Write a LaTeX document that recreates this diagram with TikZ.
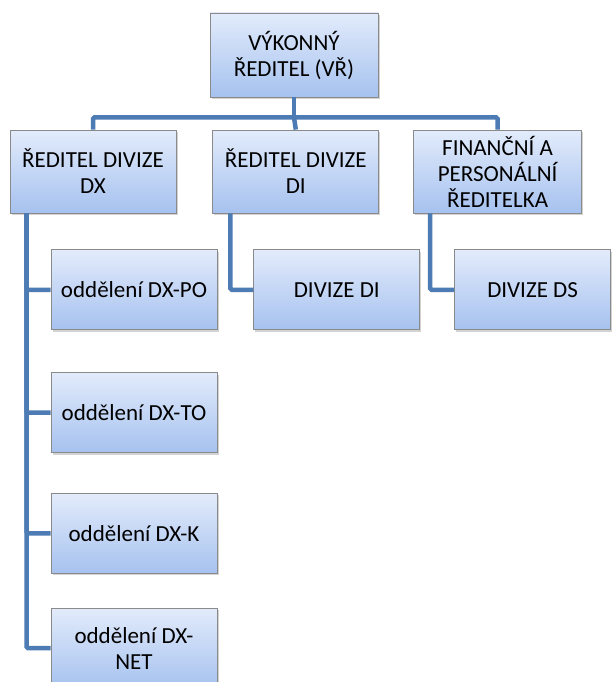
\documentclass[tikz,border=0pt]{standalone}
\usepackage{fontspec}
\setmainfont{Carlito}
\usetikzlibrary{positioning,shadows}
\definecolor{boxtop}{HTML}{E2EBFB}
\definecolor{boxbottom}{HTML}{A6C2EF}
\definecolor{boxborder}{HTML}{8A8A8A}
\definecolor{linkblue}{HTML}{4D7BB3}

\begin{document}
\begin{tikzpicture}[
    every node/.style={font=\fontsize{23}{26}\selectfont},
    orgbox/.style={
        draw=boxborder, top color=boxtop, bottom color=boxbottom,
        line width=0.8pt, align=center, inner sep=2pt,
        minimum width=166pt, minimum height=83pt,
        drop shadow={opacity=0.35, shadow xshift=1.5pt, shadow yshift=-2pt}
    },
    unitbox/.style={
        orgbox, minimum height=80pt
    },
    link/.style={
        draw=linkblue, line width=4.5pt, rounded corners=1.5pt
    },
]
\useasboundingbox (0,0) rectangle (611pt,-682pt);

% ===== Top =====
\node[orgbox, minimum width=168pt, minimum height=84pt] (top) at (294pt,-55pt) {VÝKONNÝ\\ŘEDITEL (VŘ)};

% ===== Directors =====
\node[orgbox] (dx) at (93pt,-171.5pt) {ŘEDITEL DIVIZE\\DX};
\node[orgbox, right=36pt of dx] (di) {ŘEDITEL DIVIZE\\DI};
\node[orgbox, right=34pt of di, minimum width=168pt] (ds) {FINANČNÍ A\\PERSONÁLNÍ\\ŘEDITELKA};

% ===== Units =====
\node[unitbox, below right=36pt and 41pt of dx.south west] (po) {oddělení DX-PO};
\node[unitbox, below=42pt of po] (to) {oddělení DX-TO};
\node[unitbox, below=40pt of to] (k) {oddělení DX-K};
\node[unitbox, below=34pt of k] (net) {oddělení DX-\\NET};

\node[unitbox, below right=36pt and 41pt of di.south west] (divdi) {DIVIZE DI};
\node[unitbox, below right=36pt and 41pt of ds.south west, minimum width=156pt] (divds) {DIVIZE DS};

% ===== Connectors =====
\draw[link] (top.south) -- ++(0,-20pt) coordinate (bus);
\draw[link] (bus) -| (dx.north);
\draw[link] (bus) -- (di.north);
\draw[link] (bus) -| (ds.north);

\draw[link] ([xshift=17pt]dx.south west) |- (po.west);
\draw[link] ([xshift=17pt]dx.south west) |- (to.west);
\draw[link] ([xshift=17pt]dx.south west) |- (k.west);
\draw[link] ([xshift=17pt]dx.south west) |- (net.west);

\draw[link] ([xshift=18pt]di.south west) |- (divdi.west);
\draw[link] ([xshift=17pt]ds.south west) |- (divds.west);

\end{tikzpicture}
\end{document}
